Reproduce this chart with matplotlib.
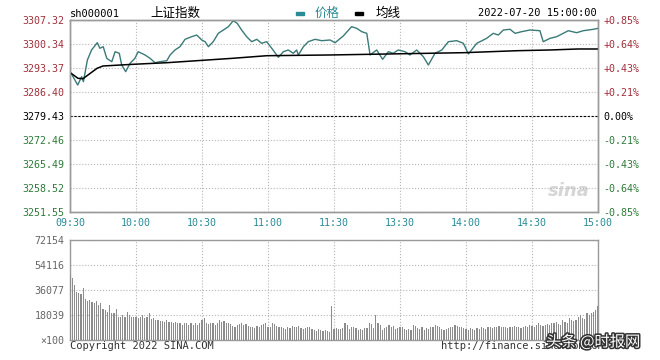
import matplotlib
matplotlib.use('Agg')
from matplotlib import pyplot as plt
from matplotlib.patches import Rectangle
import matplotlib.patheffects as pe
import numpy as np

# price levels / labels
prev_close = 3279.43
price_ticks = [3251.55, 3258.52, 3265.49, 3272.46, 3279.43, 3286.40, 3293.37, 3300.34, 3307.32]
pct_labels = ['-0.85%', '-0.64%', '-0.43%', '-0.21%', '0.00%', '+0.21%', '+0.43%', '+0.64%', '+0.85%']
time_labels = ['09:30', '10:00', '10:30', '11:00', '11:30', '13:30', '14:00', '14:30', '15:00']
vol_ticks = [0, 18039, 36077, 54116, 72154]
vol_labels = ['×100', '18039', '36077', '54116', '72154']

# price line (session minute, index value)
price_t = [0.5, 3.5, 5.3, 6.1, 7.9, 9.8, 12.4, 13.6, 15.1, 16.7, 19.0, 20.5, 22.4, 23.5, 25.3, 27.3,
           29.5, 31.0, 34.1, 36.4, 38.6, 40.9, 44.0, 45.5, 47.7, 50.0, 52.3, 55.3, 57.6, 59.9, 61.4,
           62.9, 65.1, 67.4, 69.7, 72.0, 74.2, 76.0, 78.0, 80.3, 82.6, 84.9, 87.1, 89.4, 91.7, 94.7,
           97.0, 99.2, 101.5, 103.0, 103.8, 106.1, 108.3, 111.4, 114.4, 118.2, 120.5, 124.2, 128.0,
           130.3, 132.6, 134.9, 136.4, 139.4, 142.1, 144.7, 146.9, 149.2, 152.3, 154.5, 157.6, 160.6,
           162.9, 165.9, 169.0, 172.0, 175.8, 178.8, 181.1, 184.9, 189.4, 192.4, 194.7, 197.0, 200.0,
           202.3, 205.3, 209.1, 213.6, 215.1, 218.2, 221.2, 224.2, 226.5, 230.3, 233.3, 237.9, 240]
price = [3291.84, 3288.44, 3290.86, 3289.40, 3295.70, 3298.61, 3300.73, 3299.10, 3299.57, 3296.19,
         3295.21, 3298.11, 3297.65, 3294.25, 3292.31, 3294.74, 3296.19, 3298.11, 3297.16, 3296.19,
         3294.92, 3295.21, 3295.50, 3297.16, 3298.61, 3299.57, 3301.71, 3302.47, 3302.96, 3301.51,
         3301.02, 3299.57, 3301.02, 3303.45, 3304.42, 3305.38, 3307.12, 3306.36, 3304.42, 3302.47,
         3301.02, 3301.71, 3300.55, 3301.02, 3299.10, 3296.48, 3298.11, 3298.61, 3297.65, 3298.61,
         3297.16, 3299.57, 3301.02, 3301.71, 3301.31, 3301.51, 3300.73, 3302.67, 3305.38, 3304.90,
         3303.93, 3303.45, 3297.16, 3298.61, 3295.90, 3298.11, 3297.65, 3298.61, 3298.11, 3297.16,
         3298.61, 3296.67, 3294.25, 3297.65, 3298.61, 3301.02, 3301.31, 3300.55, 3297.45, 3300.55,
         3302.00, 3303.45, 3302.96, 3304.42, 3304.62, 3303.45, 3303.93, 3304.42, 3304.21, 3301.02,
         3302.00, 3302.47, 3303.45, 3304.21, 3303.63, 3304.21, 3304.62, 3304.90]

# average line
avg_t = [0.5, 3.6, 5.9, 12.3, 15.0, 28.6, 44.1, 74.1, 89.5, 118.2, 178.6, 203.2, 218.2, 230.9, 240]
avg = [3291.84, 3290.39, 3290.27, 3293.29, 3293.96, 3294.45, 3294.92, 3296.20, 3296.95, 3297.16,
       3297.82, 3298.40, 3298.61, 3298.90, 3298.90]

# volume per minute (x100)
vol_am = [46900, 44500, 39700, 34900, 33700, 33200, 37300, 29300, 28400, 28900,
          27700, 26500, 28400, 25300, 26500, 22100, 21600, 20400, 25300, 19200,
          19200, 22100, 16800, 16800, 18000, 16800, 20400, 18000, 16800, 16800,
          16800, 15600, 16800, 18000, 15600, 16800, 19200, 14900, 15600, 14400,
          14400, 13900, 13900, 13200, 14400, 13200, 13200, 12500, 13200, 12000,
          12000, 10800, 12000, 12000, 10800, 12000, 10800, 12000, 10800,
          12500, 14400, 15600, 12000, 11500, 12500, 12000, 10800, 12000, 14400,
          13200, 13900, 12000, 12500, 11500, 10100, 9100, 10800, 11500, 12000,
          10800, 11500, 10100, 9600, 9100, 8400, 10100, 9100, 10800, 11500,
          12500, 9600, 9100, 12000, 11500, 10100, 9100, 9600, 8400, 7700,
          9100, 8400, 10100, 9600, 9100, 10100, 8400, 7700, 8400, 9100,
          9600, 7700, 7200, 6700, 7700, 7200, 6700, 7200, 6700, 6000]
vol_pm = [24500, 7700, 8400, 7700, 7700, 8400, 12000, 10800, 7700, 9600,
          9100, 8400, 7200, 7700, 7200, 8400, 8400, 12000, 11500, 8400,
          18000, 12000, 10800, 7200, 8400, 9100, 10800, 9100, 10100, 7700,
          8400, 9600, 9100, 7700, 7200, 7700, 7200, 10800, 10100, 8400,
          7700, 9100, 7200, 8400, 7700, 9100, 9600, 10800, 10100, 9100,
          7700, 7200, 7700, 8400, 9100, 9600, 10800, 10100, 9600, 9100, 8400,
          7700, 7200, 8400, 7700, 7200, 8400, 7700, 9100, 8400, 7700,
          9100, 9600, 8400, 9100, 9600, 10100, 9100, 9600, 9100, 8400,
          9600, 9100, 10100, 9100, 9600, 8400, 9100, 10100, 9600, 10800,
          10100, 9100, 10800, 12000, 10800, 10100, 10800, 11500, 10800, 12000,
          12500, 13200, 11500, 10800, 14400, 13200, 12000, 15600, 14400, 13900,
          14400, 16800, 18000, 15600, 14900, 19200, 18000, 19200, 20400, 21600, 24500]

MONO = 'DejaVu Sans Mono'
CJK = ['Noto Sans CJK SC', 'DejaVu Sans']
RED = '#a0303c'
GREEN = '#2e7a3a'
TEAL = '#2a8a96'
LINE = '#3a7a78'
W, H = 660, 360


def side_color(v):
    if v > prev_close + 0.01:
        return RED
    if v < prev_close - 0.01:
        return GREEN
    return 'black'


fig = plt.figure(figsize=(6.6, 3.6), dpi=100, facecolor='white')
ax = fig.add_axes([70 / W, 1 - 212 / H, 528 / W, 192 / H])
axv = fig.add_axes([70 / W, 1 - 340 / H, 528 / W, 100 / H])

# price panel
ax.plot(price_t, price, color=LINE, lw=1.0, zorder=3)
ax.plot(avg_t, avg, color='black', lw=1.1, zorder=4)
ax.axhline(prev_close, color='black', lw=0.8, ls=(0, (2, 1.5)), zorder=2)
ax.set_xlim(0, 240)
ax.set_ylim(price_ticks[0], price_ticks[-1])
ax.set_xticks(np.arange(0, 241, 30), time_labels)
ax.set_yticks(price_ticks, ['%.2f' % v for v in price_ticks])
ax.grid(True, color='#b5b5b5', ls=':', lw=0.8)
ax.tick_params(length=0, pad=4, labelsize=7.2)
for lab in ax.get_xticklabels():
    lab.set_fontfamily(MONO)
    lab.set_color(TEAL)
for v, lab in zip(price_ticks, ax.get_yticklabels()):
    lab.set_fontfamily(MONO)
    lab.set_color(side_color(v))

axr = ax.twinx()
axr.set_ylim(ax.get_ylim())
axr.set_yticks(price_ticks, pct_labels)
axr.tick_params(length=0, pad=4, labelsize=7.2)
for v, lab in zip(price_ticks, axr.get_yticklabels()):
    lab.set_fontfamily(MONO)
    lab.set_color(side_color(v))

for a in (ax, axr, axv):
    for s in a.spines.values():
        s.set_color('#9a9a9a')
        s.set_linewidth(1.0)

ax.text(0.985, 0.06, 'sina', transform=ax.transAxes, ha='right', va='bottom',
        fontsize=13, fontstyle='italic', fontweight='bold', color='#d6d6d6', zorder=1)

# volume panel
vol = vol_am + vol_pm
axv.bar(np.arange(len(vol)), vol, width=0.55, color='#8c8c8c', zorder=3)
axv.set_xlim(0, 240)
axv.set_ylim(0, vol_ticks[-1])
axv.set_xticks(np.arange(0, 241, 30), [])
axv.set_yticks(vol_ticks, vol_labels)
axv.grid(True, color='#b5b5b5', ls=':', lw=0.8)
axv.tick_params(length=0, pad=4, labelsize=7.2, labelcolor='#666666')
for lab in axv.get_yticklabels():
    lab.set_fontfamily(MONO)

# header
fig.text(70 / W, 1 - 14 / H, 'sh000001', fontsize=7.5, family=MONO, va='center')
fig.text(150 / W, 1 - 13 / H, '上证指数', fontsize=9, family=CJK, va='center')
fig.patches.append(Rectangle((296 / W, 1 - 14.5 / H), 8 / W, 3 / H, color=TEAL,
                             transform=fig.transFigure, figure=fig))
fig.text(315 / W, 1 - 13 / H, '价格', fontsize=9, color=TEAL, family=CJK, va='center')
fig.patches.append(Rectangle((355 / W, 1 - 14.5 / H), 8 / W, 3 / H, color='black',
                             transform=fig.transFigure, figure=fig))
fig.text(376 / W, 1 - 13 / H, '均线', fontsize=9, color='black', family=CJK, va='center')
fig.text(597 / W, 1 - 13 / H, '2022-07-20 15:00:00', fontsize=7.5, family=MONO,
         ha='right', va='center')

# footer
fig.text(70 / W, 1 - 346 / H, 'Copyright 2022 SINA.COM', fontsize=7.5, family=MONO,
         va='center', color='#333333')
fig.text(441 / W, 1 - 346 / H, 'http://finance.sina.com.cn', fontsize=7.5, family=MONO,
         va='center', color='#333333')
fig.text(546 / W, 1 - 342 / H, '头条 @时报网', fontsize=11, family=CJK, va='center',
         color='white', path_effects=[pe.withStroke(linewidth=2.2, foreground='#333333')])

fig.savefig('out.png', dpi=100, facecolor='white')
